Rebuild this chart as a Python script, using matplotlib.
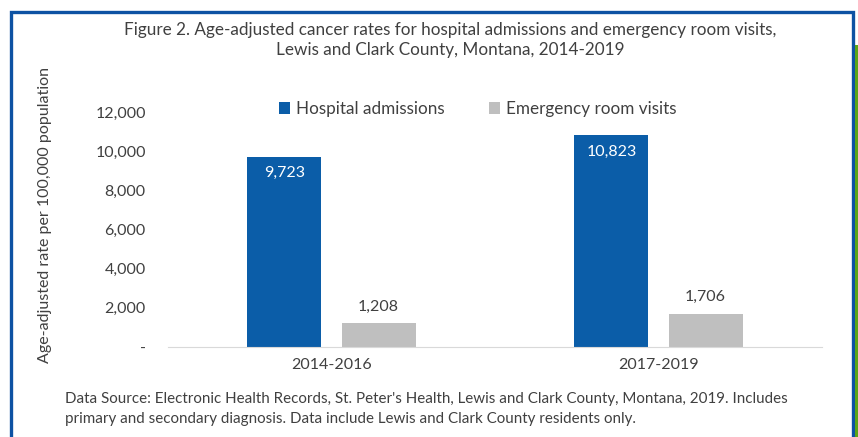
import numpy as np
import matplotlib.pyplot as plt
from matplotlib.patches import Rectangle

# Data
periods = ['2014-2016', '2017-2019']
hospital = [9723, 10823]
er_visits = [1208, 1706]
series_names = ['Hospital admissions', 'Emergency room visits']
yticks = [0, 2000, 4000, 6000, 8000, 10000, 12000]
ytick_labels = ['-', '2,000', '4,000', '6,000', '8,000', '10,000', '12,000']

blue = '#0B5DA8'
grey = '#BFBFBF'
textc = '#404040'

plt.rcParams['font.family'] = ['Lato', 'DejaVu Sans']

W, H = 858, 437
fig = plt.figure(figsize=(W / 100, H / 100), dpi=100, facecolor='white')

# Frame around the figure
fig.patches.append(Rectangle((10.5 / W, -0.1), (853 - 10.5) / W, 1.1 - 11.5 / H,
                             transform=fig.transFigure, fill=False,
                             edgecolor='#0D52A3', linewidth=2.4))
fig.patches.append(Rectangle((855 / W, 0), 3 / W, 1 - 45 / H,
                             transform=fig.transFigure, facecolor='#5BA517',
                             edgecolor='none'))

ax = fig.add_axes([168 / W, 1 - 347 / H, (822 - 168) / W, (347 - 112) / H])

x = np.arange(len(periods))
bw = 0.226
off = 0.144
b1 = ax.bar(x - off, hospital, bw, color=blue, label=series_names[0])
b2 = ax.bar(x + off, er_visits, bw, color=grey, label=series_names[1])

for rect, v in zip(b1, hospital):
    ax.text(rect.get_x() + rect.get_width() / 2, v - 480, f'{v:,}',
            ha='center', va='top', color='white', fontsize=11.5)
for rect, v in zip(b2, er_visits):
    ax.text(rect.get_x() + rect.get_width() / 2, v + 500, f'{v:,}',
            ha='center', va='bottom', color=textc, fontsize=11.5)

ax.set_xlim(-0.5, 1.5)
ax.set_ylim(0, 12000)
ax.set_yticks(yticks)
ax.set_yticklabels(ytick_labels)
ax.set_xticks(x)
ax.set_xticklabels(periods)
ax.tick_params(axis='both', length=0, labelsize=11.5, colors=textc)
ax.tick_params(axis='y', pad=16)
ax.tick_params(axis='x', pad=8)
for s in ['top', 'right', 'left']:
    ax.spines[s].set_visible(False)
ax.spines['bottom'].set_color('#D9D9D9')

ax.set_ylabel('Age-adjusted rate per 100,000 population', fontsize=11.5, color=textc)
ax.yaxis.set_label_coords(-0.177, 0.56)

leg = ax.legend(loc='center left', bbox_to_anchor=(0.17, 1.012), ncol=2, frameon=False,
                fontsize=12.3, handlelength=0.65, handleheight=0.65, handletextpad=0.35,
                columnspacing=2.6, borderaxespad=0, borderpad=0)
for t in leg.get_texts():
    t.set_color(textc)

fig.text(450 / W, 1 - 40 / H,
         'Figure 2. Age-adjusted cancer rates for hospital admissions and emergency room visits,\n'
         'Lewis and Clark County, Montana, 2014-2019',
         ha='center', va='center', fontsize=12.3, color=textc, linespacing=1.3)

fig.text(65 / W, 1 - 409 / H,
         "Data Source: Electronic Health Records, St. Peter's Health, Lewis and Clark County, Montana, 2019. Includes\n"
         'primary and secondary diagnosis. Data include Lewis and Clark County residents only.',
         ha='left', va='center', fontsize=10.9, color=textc, linespacing=1.5)

fig.savefig('out.png', dpi=100, facecolor='white')
